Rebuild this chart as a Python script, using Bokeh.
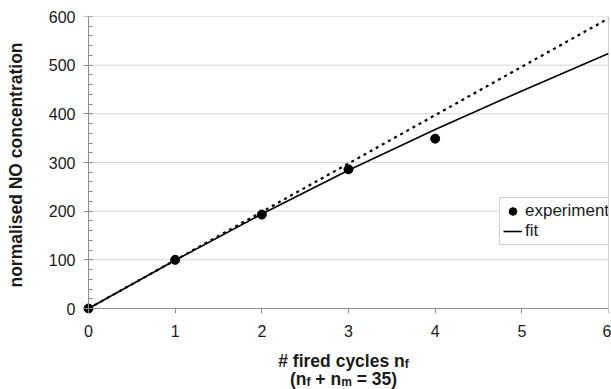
from bokeh.plotting import figure
from bokeh.layouts import column
from bokeh.models import (Range1d, FixedTicker, SingleIntervalTicker, Legend, LegendItem,
                          Label, LinearAxis, CustomJSTickFormatter)
from bokeh.embed import file_html
from bokeh.resources import INLINE

# ---- data ----
exp_x = [0, 1, 2, 3, 4]
exp_y = [0, 100, 193, 286, 349]

fit_x = [0, 1, 2, 3, 4, 5, 6]
fit_y = [0, 99, 194, 284, 368, 447, 524]

lin_x = [0, 6]
lin_y = [0, 596]

x_ticks = [0, 1, 2, 3, 4, 5, 6]
y_ticks = [0, 100, 200, 300, 400, 500, 600]

FONT = "Liberation Sans"
TXT = "#1a1a1a"
AX = "#8c8c8c"
GRID = "#d6d6d6"

# small margins so that the marker at the origin is not cut by the frame
p = figure(width=611, height=344, output_backend="svg", toolbar_location=None,
           x_range=Range1d(-0.0692, 6), y_range=Range1d(-10.27, 600),
           x_axis_location=None, y_axis_location=None,
           min_border_left=82, min_border_right=3, min_border_top=16, min_border_bottom=31)
p.frame_align = False
p.background_fill_color = "white"
p.border_fill_color = "white"
p.outline_line_color = None
p.grid.visible = False

# tick-label axes (in the side panels)
xlab = LinearAxis(ticker=FixedTicker(ticks=x_ticks), axis_line_color=None,
                  major_tick_out=0, major_tick_in=0, minor_tick_out=0, minor_tick_in=0,
                  major_label_text_font=FONT, major_label_text_font_size="16px",
                  major_label_text_color=TXT, major_label_standoff=11)
p.add_layout(xlab, "below")

ylab = LinearAxis(ticker=FixedTicker(ticks=y_ticks), axis_line_color=None,
                  major_tick_out=0, major_tick_in=0, minor_tick_out=0, minor_tick_in=0,
                  major_label_text_font=FONT, major_label_text_font_size="16px",
                  major_label_text_color=TXT, major_label_standoff=7,
                  axis_label="normalised NO concentration", axis_label_text_font=FONT,
                  axis_label_text_font_size="17.5px", axis_label_text_font_style="bold",
                  axis_label_text_color=TXT, axis_label_standoff=20)
p.add_layout(ylab, "left")

blank = CustomJSTickFormatter(code="return ''")

# axis lines with ticks, drawn at x = 0 and y = 0
xline = LinearAxis(fixed_location=0, bounds=(0, 6), ticker=FixedTicker(ticks=x_ticks),
                   formatter=blank, axis_line_color=AX, major_tick_line_color=AX,
                   major_tick_out=0, major_tick_in=5, minor_tick_out=0, minor_tick_in=0,
                   major_label_standoff=0)
p.add_layout(xline, "above")

yline = LinearAxis(fixed_location=0, bounds=(0, 600),
                   ticker=SingleIntervalTicker(interval=100, num_minor_ticks=5),
                   formatter=blank, axis_line_color=AX, major_tick_line_color=AX,
                   minor_tick_line_color=AX, major_tick_out=5, major_tick_in=4,
                   minor_tick_out=0, minor_tick_in=4, major_label_standoff=0)
p.add_layout(yline, "left")

# grid: horizontal lines at the y ticks, border line at x = 6
n = len(y_ticks) - 1
p.segment(x0=[x_ticks[0]] * n, y0=y_ticks[1:], x1=[x_ticks[-1]] * n, y1=y_ticks[1:],
          line_color=GRID, line_width=1)
p.segment(x0=[x_ticks[-1]], y0=[y_ticks[0]], x1=[x_ticks[-1]], y1=[y_ticks[-1]],
          line_color="#a8a8a8", line_width=1)

r_lin = p.line(lin_x, lin_y, line_color="black", line_width=2.2, line_dash="3 4")
r_fit = p.line(fit_x, fit_y, line_color="black", line_width=1.6)
r_exp = p.scatter(exp_x, exp_y, size=9, color="black")

legend = Legend(items=[LegendItem(label="experiment", renderers=[r_exp]),
                       LegendItem(label="fit", renderers=[r_fit])],
                location=(417, 68), orientation="vertical",
                label_text_font=FONT, label_text_font_size="17px", label_text_color=TXT,
                glyph_width=19, glyph_height=20, label_height=20, label_standoff=3,
                padding=3, spacing=0, margin=0,
                border_line_color="#a0a0a0", border_line_width=1,
                background_fill_color="white", background_fill_alpha=1.0)
p.add_layout(legend, "center")

# ---- x-axis title (two lines with subscripts) in a strip below ----
t = figure(width=611, height=45, output_backend="svg", toolbar_location=None,
           x_range=Range1d(0, 611), y_range=Range1d(0, 45),
           x_axis_location=None, y_axis_location=None,
           min_border=0, min_border_left=0, min_border_right=0,
           min_border_top=0, min_border_bottom=0)
t.frame_align = False
t.outline_line_color = None
t.grid.visible = False
t.background_fill_color = "white"
t.border_fill_color = "white"

def w(s, size):
    widths = {'#': 556, ' ': 278, 'f': 333, 'i': 278, 'r': 389, 'e': 556, 'd': 611,
              'c': 556, 'y': 556, 'l': 278, 's': 556, 'n': 611, '(': 333, ')': 333,
              '+': 584, 'm': 889, '=': 584, '3': 556, '5': 556}
    return sum(widths.get(ch, 556) for ch in s) * size / 1000.0

MAIN = 17.5
SUB = 12
def title_line(parts, center_x, base_y):
    total = sum(w(s, SUB if sub else MAIN) for s, sub in parts)
    x = center_x - total / 2
    for s, sub in parts:
        size = SUB if sub else MAIN
        if s.strip():
            t.add_layout(Label(x=x, y=base_y - (3 if sub else 0), x_units="screen", y_units="screen",
                               text=s, text_font=FONT, text_font_size=f"{size}px",
                               text_font_style="bold", text_color=TXT,
                               text_align="left", text_baseline="alphabetic"))
        x += w(s, size)

title_line([("#", False), (" ", False), ("fired", False), (" ", False), ("cycles", False),
            (" ", False), ("n", False), ("f", True)], 343, 29)
title_line([("(n", False), ("f", True), (" ", False), ("+", False), (" ", False), ("n", False),
            ("m", True), (" ", False), ("=", False), (" ", False), ("35)", False)], 343, 11)

layout = column(p, t, spacing=0)
open("out.html", "w").write(file_html(layout, INLINE))
